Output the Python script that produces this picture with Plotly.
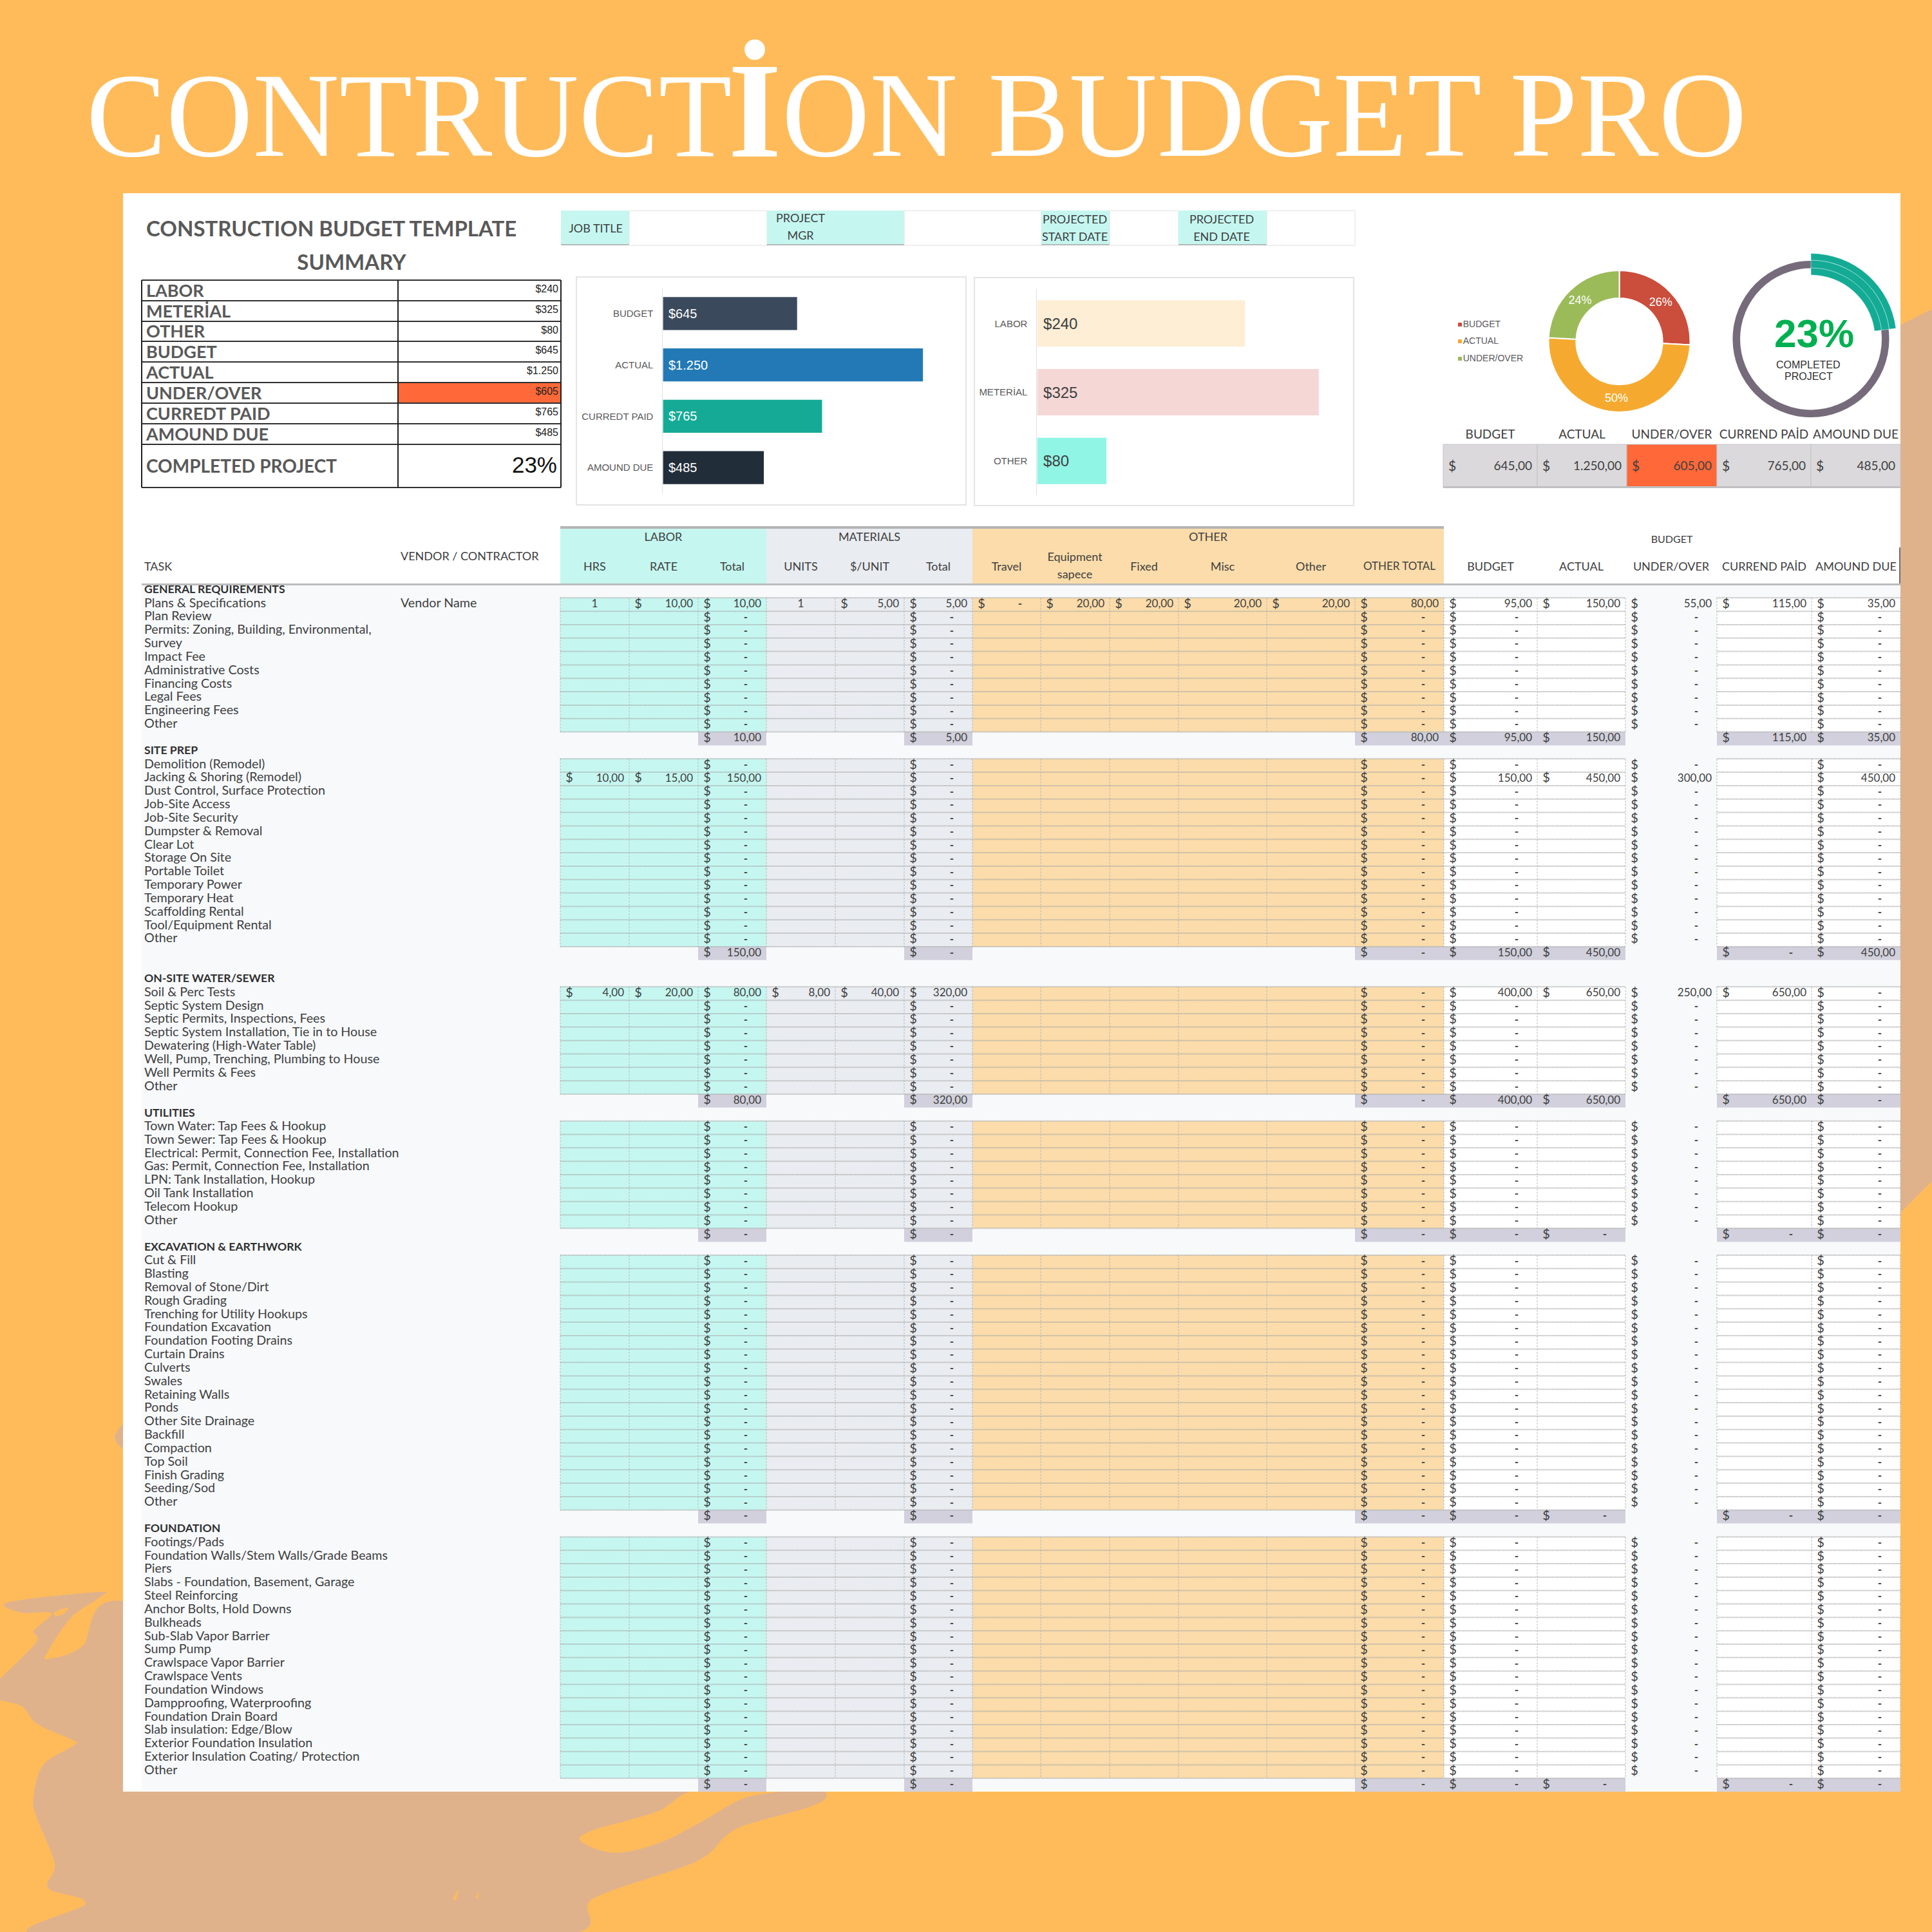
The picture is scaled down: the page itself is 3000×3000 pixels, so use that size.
import plotly.graph_objects as go

# summary block
summary_labels = ["LABOR", "METERİAL", "OTHER", "BUDGET", "ACTUAL", "UNDER/OVER", "CURREDT PAID", "AMOUND DUE"]
summary_values = ["$240", "$325", "$80", "$645", "$1.250", "$605", "$765", "$485"]
completed_pct = "23%"

# bar charts
money_labels = ["BUDGET", "ACTUAL", "CURREDT PAID", "AMOUND DUE"]
money_values = [645, 1250, 765, 485]
cost_labels = ["LABOR", "METERİAL", "OTHER"]
cost_values = [240, 325, 80]

# donut and progress ring
donut_labels = ["BUDGET", "ACTUAL", "UNDER/OVER"]
donut_values = [645, 1250, 605]
progress_values = [23, 77]

# totals strip
strip_labels = ["BUDGET", "ACTUAL", "UNDER/OVER", "CURREND PAİD", "AMOUND DUE"]
strip_values = ["645,00", "1.250,00", "605,00", "765,00", "485,00"]

# task lists
section_names = ["GENERAL REQUIREMENTS", "SITE PREP", "ON-SITE WATER/SEWER", "UTILITIES",
                 "EXCAVATION & EARTHWORK", "FOUNDATION"]
general_tasks = ["Plans & Specifications", "Plan Review", "Permits: Zoning, Building, Environmental,", "Survey",
                 "Impact Fee", "Administrative Costs", "Financing Costs", "Legal Fees", "Engineering Fees", "Other"]
site_tasks = ["Demolition (Remodel)", "Jacking & Shoring (Remodel)", "Dust Control, Surface Protection",
              "Job-Site Access", "Job-Site Security", "Dumpster & Removal", "Clear Lot", "Storage On Site",
              "Portable Toilet", "Temporary Power", "Temporary Heat", "Scaffolding Rental", "Tool/Equipment Rental",
              "Other"]
water_tasks = ["Soil & Perc Tests", "Septic System Design", "Septic Permits, Inspections, Fees",
               "Septic System Installation, Tie in to House", "Dewatering (High-Water Table)",
               "Well, Pump, Trenching, Plumbing to House", "Well Permits & Fees", "Other"]
utility_tasks = ["Town Water: Tap Fees & Hookup", "Town Sewer: Tap Fees & Hookup",
                 "Electrical: Permit, Connection Fee, Installation", "Gas: Permit, Connection Fee, Installation",
                 "LPN: Tank Installation, Hookup", "Oil Tank Installation", "Telecom Hookup", "Other"]
excavation_tasks = ["Cut & Fill", "Blasting", "Removal of Stone/Dirt", "Rough Grading", "Trenching for Utility Hookups",
                    "Foundation Excavation", "Foundation Footing Drains", "Curtain Drains", "Culverts", "Swales",
                    "Retaining Walls", "Ponds", "Other Site Drainage", "Backfill", "Compaction", "Top Soil",
                    "Finish Grading", "Seeding/Sod", "Other"]
foundation_tasks = ["Footings/Pads", "Foundation Walls/Stem Walls/Grade Beams", "Piers",
                    "Slabs - Foundation, Basement, Garage", "Steel Reinforcing", "Anchor Bolts, Hold Downs", "Bulkheads",
                    "Sub-Slab Vapor Barrier", "Sump Pump", "Crawlspace Vapor Barrier", "Crawlspace Vents",
                    "Foundation Windows", "Dampproofing, Waterproofing", "Foundation Drain Board",
                    "Slab insulation: Edge/Blow", "Exterior Foundation Insulation",
                    "Exterior Insulation Coating/ Protection", "Other"]
section_tasks = [general_tasks, site_tasks, water_tasks, utility_tasks, excavation_tasks, foundation_tasks]

# rows that hold numbers; every other row only shows the default dashes
plans_row = {"hrs": "1", "rate": "$10,00", "labor_total": "$10,00", "units": "1", "per_unit": "$5,00",
             "mat_total": "$5,00", "travel": "$-", "equipment": "$20,00", "fixed": "$20,00", "misc": "$20,00",
             "other": "$20,00", "other_total": "$80,00", "budget": "$95,00", "actual": "$150,00",
             "under_over": "$55,00", "paid": "$115,00", "due": "$35,00"}
jacking_row = {"hrs": "$10,00", "rate": "$15,00", "labor_total": "$150,00", "mat_total": "$-", "other_total": "$-",
               "budget": "$150,00", "actual": "$450,00", "under_over": "$300,00", "due": "$450,00"}
soil_row = {"hrs": "$4,00", "rate": "$20,00", "labor_total": "$80,00", "units": "$8,00", "per_unit": "$40,00",
            "mat_total": "$320,00", "other_total": "$-", "budget": "$400,00", "actual": "$650,00",
            "under_over": "$250,00", "paid": "$650,00", "due": "$-"}
filled_rows = {"Plans & Specifications": plans_row, "Jacking & Shoring (Remodel)": jacking_row,
               "Soil & Perc Tests": soil_row}
default_row = {"labor_total": "$-", "mat_total": "$-", "other_total": "$-", "budget": "$-", "under_over": "$-",
               "due": "$-"}

section_totals = [
    {"labor_total": "$10,00", "mat_total": "$5,00", "other_total": "$80,00", "budget": "$95,00", "actual": "$150,00",
     "paid": "$115,00", "due": "$35,00"},
    {"labor_total": "$150,00", "mat_total": "$-", "other_total": "$-", "budget": "$150,00", "actual": "$450,00",
     "paid": "$-", "due": "$450,00"},
    {"labor_total": "$80,00", "mat_total": "$320,00", "other_total": "$-", "budget": "$400,00", "actual": "$650,00",
     "paid": "$650,00", "due": "$-"},
]
empty_total = {"labor_total": "$-", "mat_total": "$-", "other_total": "$-", "budget": "$-", "actual": "$-",
               "paid": "$-", "due": "$-"}
section_totals += [empty_total, empty_total, empty_total]
blank_rows_after = [0, 1, 0, 0, 0, 0]

GOTHIC = "Lato"
ARIAL = "Liberation Sans"
INK = "#404040"
ORANGE = "#ffbb5a"
TAN = "#dfb28c"
TEAL_CELL = "#c5f7f0"
MAT_CELL = "#e9ecf0"
OTHER_CELL = "#fbdcaa"
TOTAL_CELL = "#d1d0dc"
HOT = "#ff6838"

columns = ["hrs", "rate", "labor_total", "units", "per_unit", "mat_total", "travel", "equipment", "fixed", "misc",
           "other", "other_total", "budget", "actual", "under_over", "paid", "due"]
col_edges = [870, 977, 1084, 1190, 1297, 1404, 1510, 1616, 1723, 1830, 1967, 2104, 2242, 2387, 2524, 2666, 2813, 2951]
col_left = dict(zip(columns, col_edges[:-1]))
col_right = dict(zip(columns, col_edges[1:]))
ROW_H = 20.83


def row_top(n):
    return 928.3 + (n - 1) * ROW_H


shapes = []
labels = {}


def rect(x0, y0, x1, y1, fill, line=None, width=1):
    shapes.append(dict(type="rect", x0=x0, y0=y0, x1=x1, y1=y1, fillcolor=fill, layer="below",
                       line=dict(color=line, width=width) if line else dict(width=0)))


def blob(points, fill):
    # closed catmull-rom path through the outline points
    n = len(points)
    path = f"M {points[0][0]} {points[0][1]}"
    for i in range(n):
        p0, p1, p2, p3 = points[i - 1], points[i], points[(i + 1) % n], points[(i + 2) % n]
        c1 = (p1[0] + (p2[0] - p0[0]) / 6, p1[1] + (p2[1] - p0[1]) / 6)
        c2 = (p2[0] - (p3[0] - p1[0]) / 6, p2[1] - (p3[1] - p1[1]) / 6)
        path += f" C {c1[0]:.1f} {c1[1]:.1f} {c2[0]:.1f} {c2[1]:.1f} {p2[0]} {p2[1]}"
    shapes.append(dict(type="path", path=path + " Z", fillcolor=fill, line=dict(width=0), layer="below"))


def label(x, y, text, size=18, color=INK, anchor="left", family=GOTHIC, weight="normal"):
    key = (anchor, size, color, family, weight)
    labels.setdefault(key, ([], [], []))
    labels[key][0].append(x)
    labels[key][1].append(y)
    labels[key][2].append(text)


def money(col, y, value, size=17):
    left, right = col_left[col], col_right[col]
    if not value.startswith("$"):
        label((left + right) / 2, y, value, size=size, anchor="center")
        return
    label(left + 14, y, "$", size=size + 3, anchor="center")
    if value == "$-":
        label(right - 32, y, "-", size=size, anchor="center", weight="bold")
    else:
        label(right - 8, y, value[1:], size=size, anchor="right")


# background splashes
blob([(13, 2488), (153, 2472), (155, 2480), (110, 2512), (73, 2567), (75, 2576), (127, 2557), (191, 2486),
      (500, 2600), (1000, 2700), (1281, 2782), (1143, 2840), (1082, 2890), (923, 2947), (837, 3010), (83, 3010),
      (133, 2955), (75, 2932), (85, 2894), (57, 2822), (52, 2792), (67, 2741), (115, 2710), (113, 2702), (58, 2677),
      (33, 2649), (-10, 2637), (-10, 2618), (55, 2552), (53, 2532), (80, 2505), (33, 2504)], TAN)
blob([(84, 2504), (105, 2496), (100, 2505), (88, 2509)], ORANGE)
blob([(1081, 2780), (1020, 2813), (918, 2843), (903, 2860), (954, 2877), (1020, 2863), (1082, 2833), (1153, 2793),
      (1214, 2780)], ORANGE)
blob([(704, 2948), (712, 2934), (708, 2950)], ORANGE)
blob([(739, 2946), (743, 2938), (742, 2947)], ORANGE)
blob([(195, 2210), (178, 2232), (195, 2250)], TAN)
shapes.append(dict(type="path", path="M 2940 510 L 3000 480 L 3000 1834 L 2940 1894 Z", fillcolor=TAN,
                   line=dict(width=0), layer="below"))
blob([(2965, 1871), (3005, 1851), (3005, 1869)], ORANGE)

# white sheet and table backdrop
rect(191, 300, 2951, 2782, "white")
rect(220, 909, 2951, 2780, "#f7f9fb")

# project header strip
strip_cells = [(871, 977, True), (977, 1191, False), (1191, 1404, True), (1404, 1617, False), (1617, 1723, True),
               (1723, 1830, False), (1830, 1967, True), (1967, 2104, False)]
for x0, x1, teal in strip_cells:
    rect(x0, 327, x1, 381, TEAL_CELL if teal else "white", line="#e2e2e2" if not teal else None)
    if teal:
        rect(x0, 379, x1, 381, "#b5b9b9")
label(925, 356, "JOB TITLE", size=18, anchor="center")
label(1243, 340, "PROJECT", size=18, anchor="center")
label(1243, 367, "MGR", size=18, anchor="center")
label(1669, 342, "PROJECTED", size=18, anchor="center")
label(1669, 369, "START DATE", size=18, anchor="center")
label(1897, 342, "PROJECTED", size=18, anchor="center")
label(1897, 369, "END DATE", size=18, anchor="center")

# summary table
label(227, 359, "CONSTRUCTION BUDGET TEMPLATE", size=33, color="#595959", weight="bold")
label(546, 411, "SUMMARY", size=33, color="#595959", anchor="center", weight="bold")
summary_lines = [435, 467, 499, 530, 562, 594, 626, 658, 690, 757]
rect(618, 594, 871, 626, HOT)
for i, name in enumerate(summary_labels):
    y = (summary_lines[i] + summary_lines[i + 1]) / 2
    label(227, y + 3, name, size=27, color="#595959", weight="bold")
    label(867, y - 1, summary_values[i], size=16, color="#222222", anchor="right", family=ARIAL)
label(227, 727, "COMPLETED PROJECT", size=28, color="#595959", weight="bold")
label(865, 725, completed_pct, size=35, color="#111111", anchor="right", family=ARIAL)
for y in summary_lines:
    shapes.append(dict(type="line", x0=220, x1=871, y0=y, y1=y, layer="below", line=dict(color="#303030", width=2)))
for x in [220, 618, 871]:
    shapes.append(dict(type="line", x0=x, x1=x, y0=435, y1=757, layer="below", line=dict(color="#202020", width=2)))

# chart frames
rect(895, 430, 1500, 784, "white", line="#e4e4e4", width=2)
rect(1513, 431, 2102, 785, "white", line="#e4e4e4", width=2)

# totals strip under the donut
strip_edges = [2241, 2387, 2526, 2666, 2812, 2951]
for i, name in enumerate(strip_labels):
    x0, x1 = strip_edges[i], strip_edges[i + 1]
    label((x0 + x1) / 2, 676, name, size=19, anchor="center")
    rect(x0, 690, x1, 757, HOT if name == "UNDER/OVER" else "#dbd9dc", line="#c4c4c4")
    label(x0 + 14, 726, "$", size=21, anchor="center")
    label(x1 - 8, 725, strip_values[i], size=19, anchor="right")
rect(2241, 755, 2951, 758, "#c0c0c0")

# donut legend
legend_x = [2267, 2267, 2267]
legend_y = [504, 530, 557]

# table header
rect(870, 817, 2242, 821, "#b4b4b4")
rect(870, 821, 1190, 907, TEAL_CELL)
rect(1190, 821, 1510, 907, MAT_CELL)
rect(1510, 821, 2242, 907, OTHER_CELL)
rect(220, 906, 2951, 909, "#bcbcbc")
rect(2949, 850, 2951, 906, "#707070")
label(224, 881, "TASK", size=18)
label(622, 865, "VENDOR / CONTRACTOR", size=18)
label(1030, 835, "LABOR", size=18, anchor="center")
label(1350, 835, "MATERIALS", size=18, anchor="center")
label(1876, 835, "OTHER", size=18, anchor="center")
label(2596, 839, "BUDGET", size=16, anchor="center")
header_row = {"hrs": "HRS", "rate": "RATE", "labor_total": "Total", "units": "UNITS", "per_unit": "$/UNIT",
              "mat_total": "Total", "travel": "Travel", "fixed": "Fixed", "misc": "Misc", "other": "Other",
              "budget": "BUDGET", "actual": "ACTUAL", "under_over": "UNDER/OVER",
              "paid": "CURREND PAİD", "due": "AMOUND DUE"}
for col, text in header_row.items():
    label((col_left[col] + col_right[col]) / 2, 881, text, size=18, anchor="center")
label(2173, 881, "OTHER TOTAL", size=17, anchor="center")
label(1669, 866, "Equipment", size=18, anchor="center")
label(1669, 893, "sapece", size=18, anchor="center")

# table body
h_x, h_y, v_x, v_y = [], [], [], []
row = 0
for s, name in enumerate(section_names):
    label(224, row_top(row) + 9.5, name, size=17.6, color="#303030", weight="bold")
    tasks = section_tasks[s]
    first = row + 1
    last = row + len(tasks)
    top, bottom = row_top(first), row_top(last + 1)
    rect(870, top, 1190, bottom, TEAL_CELL)
    rect(1190, top, 1510, bottom, MAT_CELL)
    rect(1510, top, 2242, bottom, OTHER_CELL)
    rect(2242, top, 2524, bottom, "white")
    rect(2666, top, 2951, bottom, "white")
    for i, task in enumerate(tasks):
        r = first + i
        y = row_top(r) + 9.4
        label(224, y, task, size=19.7)
        if task == "Plans & Specifications":
            label(622, y, "Vendor Name", size=19.7)
        for col, value in filled_rows.get(task, default_row).items():
            money(col, y + 1, value)
        for x0, x1 in [(870, 2524), (2666, 2951)]:
            h_x += [x0, x1, None]
            h_y += [row_top(r), row_top(r), None]
    for x0, x1 in [(870, 2524), (2666, 2951)]:
        h_x += [x0, x1, None]
        h_y += [bottom, bottom, None]
    for x in col_edges:
        v_x += [x, x, None]
        v_y += [top, bottom, None]
    total_row = last + 1
    total_top, total_bottom = row_top(total_row), row_top(total_row + 1)
    for x0, x1 in [(1084, 1190), (1404, 1510), (2104, 2524), (2666, 2951)]:
        rect(x0, total_top, x1, total_bottom, TOTAL_CELL)
    for col, value in section_totals[s].items():
        money(col, total_top + 10.4, value)
    row = total_row + 1 + blank_rows_after[s]

# big banner title, the dotted I is heavier than the rest
label(134, 195, "CONTRUCT", size=186, color="white", family="Liberation Serif")
label(1172, 190, "İ", size=212, color="white", anchor="center", family="Liberation Serif", weight="bold")
label(1214, 195, "ON BUDGET PRO", size=189, color="white", family="Liberation Serif")

fig = go.Figure()

# grid lines
fig.add_trace(go.Scatter(x=v_x, y=v_y, mode="lines", hoverinfo="skip",
                         line=dict(color="#b8b8b8", width=1, dash="3px,2px")))
fig.add_trace(go.Scatter(x=h_x, y=h_y, mode="lines", hoverinfo="skip",
                         line=dict(color="#a8a8a8", width=2, dash="1px,1px")))

# all the text of the sheet
positions = {"left": "middle right", "right": "middle left", "center": "middle center"}
for (anchor, size, color, family, weight), (xs, ys, texts) in labels.items():
    fig.add_trace(go.Scatter(x=xs, y=ys, text=texts, mode="text", hoverinfo="skip", cliponaxis=False,
                             textposition=positions[anchor],
                             textfont=dict(size=size, color=color, family=family, weight=weight)))

# donut legend
fig.add_trace(go.Scatter(x=legend_x, y=legend_y, mode="markers+text", text=donut_labels, hoverinfo="skip",
                         textposition="middle right",
                         marker=dict(symbol="square", size=6, color=["#cb4d3c", "#f5aa2f", "#9bbb59"]),
                         textfont=dict(size=14, color="#595959", family=ARIAL)))

# money bars
fig.add_trace(go.Bar(x=money_values, y=money_labels, orientation="h", xaxis="x2", yaxis="y2", width=0.645,
                     marker=dict(color=["#3a4a5c", "#2279b5", "#15aa96", "#222d3a"], line=dict(width=0)),
                     texttemplate="\u00a0$%{x:,.0f}", textposition="inside", insidetextanchor="start", textangle=0,
                     insidetextfont=dict(size=20, color="white", family=ARIAL), hoverinfo="skip"))
# cost bars
fig.add_trace(go.Bar(x=cost_values, y=cost_labels, orientation="h", xaxis="x3", yaxis="y3", width=0.675,
                     marker=dict(color=["#fdeed5", "#f5d8d6", "#90f5e5"], line=dict(width=0)),
                     texttemplate="\u00a0$%{x:,.0f}", textposition="inside", insidetextanchor="start", textangle=0,
                     insidetextfont=dict(size=24, color=INK, family=ARIAL), hoverinfo="skip"))


def square_domain(cx, cy, r):
    return dict(x=[(cx - r) / 3000, (cx + r) / 3000], y=[1 - (cy + r) / 3000, 1 - (cy - r) / 3000])


fig.add_trace(go.Pie(values=donut_values, labels=donut_labels, sort=False, direction="clockwise", rotation=0,
                     hole=0.61, domain=square_domain(2514.5, 530, 110), textinfo="percent",
                     texttemplate="%{percent:.0%}", textposition="inside", insidetextorientation="horizontal",
                     insidetextfont=dict(size=18, color="white", family=ARIAL), hoverinfo="skip", showlegend=False,
                     marker=dict(colors=["#cb4d3c", "#f5aa2f", "#9bbb59"], line=dict(color="white", width=2))))

# progress ring: full grey ring, then three thin teal bands over it
fig.add_trace(go.Pie(values=[100], sort=False, hole=0.905, domain=square_domain(2812, 526.5, 121.5), textinfo="none",
                     hoverinfo="skip", showlegend=False, marker=dict(colors=["#766b7a"], line=dict(width=0))))
for radius, hole in [(133, 0.92), (122.5, 0.9), (110.5, 0.9)]:
    fig.add_trace(go.Pie(values=progress_values, sort=False, direction="clockwise", rotation=0, hole=hole,
                         domain=square_domain(2812, 526.5, radius), textinfo="none", hoverinfo="skip",
                         showlegend=False,
                         marker=dict(colors=["#14ab95", "rgba(0,0,0,0)"],
                                     line=dict(color=["rgba(255,255,255,0.45)", "rgba(0,0,0,0)"], width=1))))

annotations = [
    dict(x=2817, y=517, text=completed_pct, showarrow=False, xref="x", yref="y",
         font=dict(size=62, color="#00b050", family=ARIAL, weight="bold")),
    dict(x=2808, y=566, text="COMPLETED", showarrow=False, xref="x", yref="y",
         font=dict(size=16, color="#303030", family=ARIAL)),
    dict(x=2808, y=584, text="PROJECT", showarrow=False, xref="x", yref="y",
         font=dict(size=16, color="#303030", family=ARIAL)),
]

hidden_x = dict(visible=False, fixedrange=True)
fig.update_layout(
    width=3000, height=3000, margin=dict(l=0, r=0, t=0, b=0), autosize=False,
    paper_bgcolor=ORANGE, plot_bgcolor="rgba(0,0,0,0)", showlegend=False, separators=",.",
    shapes=shapes, annotations=annotations,
    xaxis=dict(range=[0, 3000], visible=False, domain=[0, 1]),
    yaxis=dict(range=[3000, 0], visible=False, domain=[0, 1]),
    xaxis2=dict(hidden_x, range=[0, 1400], domain=[1029.4 / 3000, 1481.6 / 3000], anchor="y2"),
    yaxis2=dict(domain=[1 - 766 / 3000, 1 - 447 / 3000], anchor="x2", autorange="reversed", showgrid=False,
                showline=True, linecolor="#e0e0e0", ticks="outside", ticklen=11, tickcolor="rgba(0,0,0,0)",
                tickfont=dict(size=15, color="#595959", family=ARIAL)),
    xaxis3=dict(hidden_x, range=[0, 350], domain=[1610.4 / 3000, 2081.5 / 3000], anchor="y3"),
    yaxis3=dict(domain=[1 - 769 / 3000, 1 - 449 / 3000], anchor="x3", autorange="reversed", showgrid=False,
                showline=True, linecolor="#e0e0e0", ticks="outside", ticklen=11, tickcolor="rgba(0,0,0,0)",
                tickfont=dict(size=15, color="#595959", family=ARIAL)),
)

# drop the page's default body margin so the sheet lines up with the window
fig.write_html("out.html", config=dict(displayModeBar=False), post_script="document.body.style.margin='0';")
